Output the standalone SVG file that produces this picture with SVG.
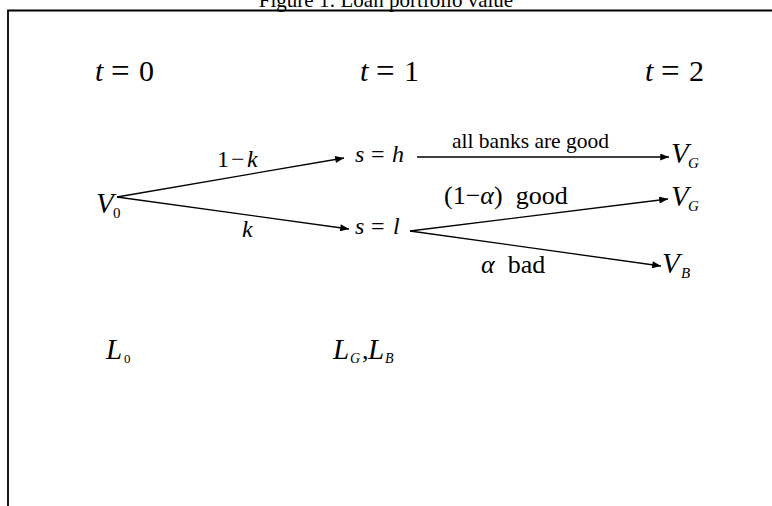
<svg xmlns="http://www.w3.org/2000/svg" width="772" height="506" viewBox="0 0 772 506">
<defs>
<style>
.m{font-family:"Liberation Serif","Times New Roman",serif;fill:#000;white-space:pre}
.i{font-style:italic}
.t{font-size:30px}
.e{font-size:33px}
.n{font-size:26px}
.v{font-size:29px;font-style:italic}
.s{font-size:15px}
.c{stroke:#000;stroke-width:1.3;fill:none}
</style>
<marker id="a" viewBox="0 0 10 8" refX="10" refY="4" markerWidth="10" markerHeight="7" markerUnits="userSpaceOnUse" orient="auto">
<path d="M0,0 L10,4 L0,8 Z" fill="#000"/>
</marker>
</defs>
<rect width="772" height="506" fill="#fff"/>
<text class="m" x="386" y="7" font-size="21" text-anchor="middle">Figure 1: Loan portfolio value</text>
<path d="M8,506 V10.5 H772" stroke="#000" stroke-width="1.8" fill="none"/>
<g id="time-labels">
<text class="m t" y="81"><tspan class="i" x="95">t</tspan> <tspan class="e" x="111" y="82">=</tspan> <tspan x="139" y="81">0</tspan></text>
<text class="m t" y="81"><tspan class="i" x="360">t</tspan> <tspan class="e" x="376" y="82">=</tspan> <tspan x="404" y="81">1</tspan></text>
<text class="m t" y="81"><tspan class="i" x="645">t</tspan> <tspan class="e" x="661" y="82">=</tspan> <tspan x="689" y="81">2</tspan></text>
</g>
<g id="connectors">
<line class="c" x1="117" y1="197" x2="344" y2="158" marker-end="url(#a)"/>
<line class="c" x1="117" y1="197" x2="349" y2="229" marker-end="url(#a)"/>
<line class="c" x1="417" y1="157" x2="669" y2="157" marker-end="url(#a)"/>
<line class="c" x1="410" y1="231" x2="668" y2="199" marker-end="url(#a)"/>
<line class="c" x1="410" y1="231" x2="661" y2="266" marker-end="url(#a)"/>
<text class="m" y="167" font-size="24"><tspan x="217">1</tspan> <tspan x="231">−</tspan> <tspan class="i" x="247">k</tspan></text>
<text class="m i" x="242" y="237" font-size="24">k</text>
<text class="m" x="452" y="148" font-size="21.5">all banks are good</text>
<text class="m n" x="444" y="204">(1−<tspan class="i">α</tspan>)  good</text>
<text class="m n" x="481" y="273"><tspan class="i">α</tspan>  bad</text>
</g>
<g id="v0"><text class="m v" x="96" y="213">V</text><text class="m s" x="113" y="218">0</text></g>
<g id="sh"><text class="m" y="162" font-size="24"><tspan class="i" x="355">s</tspan> <tspan x="371">=</tspan> <tspan class="i" x="392">h</tspan></text></g>
<g id="sl"><text class="m" y="234" font-size="24"><tspan class="i" x="355">s</tspan> <tspan x="371">=</tspan> <tspan class="i" x="393">l</tspan></text></g>
<g id="vg1"><text class="m v" x="671" y="163">V</text><text class="m s i" x="688" y="168">G</text></g>
<g id="vg2"><text class="m v" x="671" y="206">V</text><text class="m s i" x="688" y="211">G</text></g>
<g id="vb"><text class="m v" x="662" y="273">V</text><text class="m s i" x="681" y="278">B</text></g>
<g id="l0"><text class="m v" x="106" y="359">L</text><text class="m" x="124" y="363" font-size="13">0</text></g>
<g id="lglb"><text class="m v" x="333" y="359">L</text><text class="m i" x="350" y="363" font-size="14">G</text><text class="m n" x="362" y="359">,</text><text class="m v" x="368" y="359">L</text><text class="m i" x="385" y="363" font-size="14">B</text></g>
</svg>
